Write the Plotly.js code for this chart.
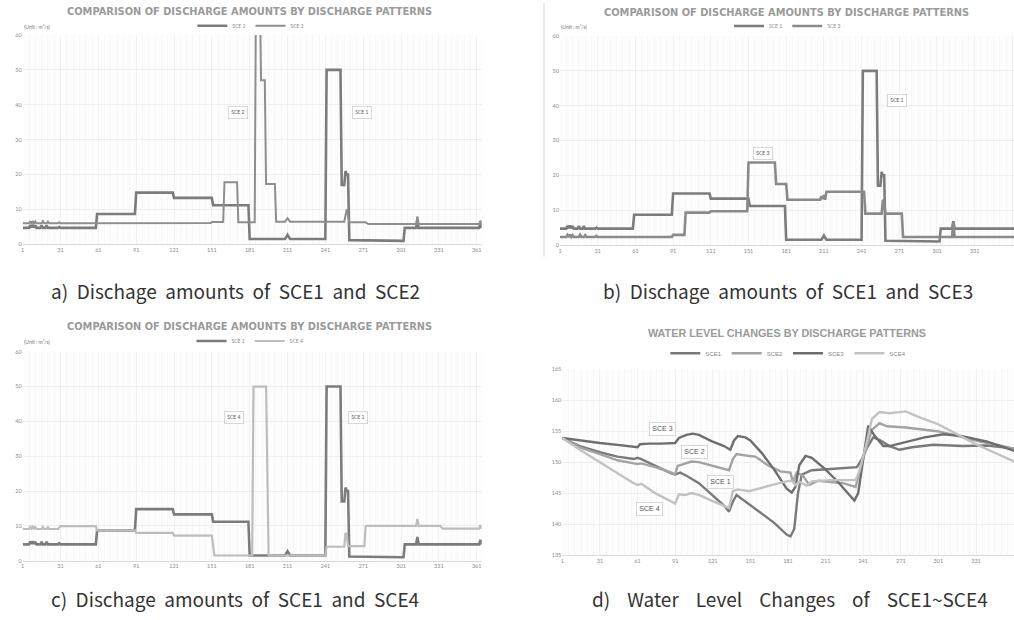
<!DOCTYPE html>
<html><head><meta charset="utf-8">
<script src="https://cdn.plot.ly/plotly-3.0.1.min.js"></script>
<style>html,body{margin:0;padding:0;background:#fff;} #chart{width:1014px;height:620px;}</style>
</head><body><div id="chart"></div>
<script>
// ---- Discharge (m3/s) by day : breakpoints ----
const sce1Day = [1,6,7,8,9,10,11,12,15,16,17,19,20,21,29,30,31,59,60,90,91,120,121,151,152,180,181,209,211,213,241,242,253,254,256,257,258,259,260,273,275,303,304,313,314,315,363,364,365];
const sce1Q   = [4.7,4.7,5.5,4.8,5.6,4.8,5.4,4.7,4.7,5.4,4.7,4.7,5.4,4.7,4.7,5.0,4.7,4.7,8.7,8.7,14.8,14.8,13.3,13.3,11.2,11.2,1.5,1.5,2.7,1.5,1.5,50,50,17,17,21,20,20,1.2,1.2,1.0,1.0,4.7,4.7,6.8,4.7,4.7,6.0,4.7];

const sce2Day = [1,6,7,8,9,10,11,12,16,17,18,20,21,22,29,30,31,120,121,150,151,160,161,171,172,185,186,189,190,193,194,201,202,209,211,213,256,258,260,273,275,313,314,315,363,364,365];
const sce2Q   = [6.0,6.0,6.6,5.9,6.7,5.9,6.5,6.0,6.0,6.6,6.0,6.0,6.5,6.0,6.0,6.3,6.0,6.0,6.1,6.1,6.4,6.4,17.8,17.8,6.3,6.3,75,75,47,47,17.3,17.3,6.5,6.5,7.5,6.5,6.5,10,6.3,6.3,5.8,5.8,8.0,5.8,5.8,6.8,5.8];

const sce3Day = [1,6,7,8,9,10,11,12,16,17,18,20,21,22,29,30,31,90,91,100,101,120,121,150,151,172,173,181,182,208,209,210,211,212,213,243,244,257,258,259,260,273,274,313,314,315,365];
const sce3Q   = [2.3,2.3,2.9,2.3,3.0,2.3,2.8,2.3,2.3,2.9,2.3,2.3,2.8,2.3,2.3,2.6,2.3,2.3,2.9,2.9,9.3,9.3,9.7,9.7,23.7,23.7,17.5,17.5,13.0,13.0,14.0,13.2,14.3,13.0,15.3,15.3,9.0,9.0,13.0,12.0,9.0,9.0,2.3,2.3,6.5,2.3,2.3];

const sce4Day = [1,6,7,8,9,10,11,12,16,17,18,20,21,22,29,30,31,59,60,90,91,120,121,151,153,183,184,194,196,241,242,256,257,258,259,272,273,313,314,315,332,334,363,364,365];
const sce4Q   = [9.1,9.1,9.7,9.2,9.8,9.2,9.6,9.1,9.1,9.7,9.1,9.1,9.6,9.1,9.1,9.4,9.95,9.95,8.7,8.7,8.0,8.0,7.2,7.2,1.5,1.5,50,50,1.5,1.5,4.0,4.0,8.0,7.5,4.2,4.2,10,10,12,10,10,9.2,9.2,10.2,9.2];

// ---- Water level (EL.m) by day ----
const wl1Day = [1,15,31,45,58,61,64,75,88,91,95,100,110,120,130,134,137,140,150,160,170,180,183,186,189,192,200,215,236,240,244,249,255,262,270,280,297,320,340,365];
const wl1    = [153.9,152.6,151.6,150.9,150.5,150.7,150.5,149.4,148.2,148.0,148.3,147.8,146.6,144.8,143.0,142.0,143.6,144.7,143.2,141.6,140.2,138.3,138.0,139.2,145.0,148.0,148.7,148.9,149.2,150.5,152.3,154.0,153.5,152.6,152.0,152.4,152.8,152.6,152.7,152.1];

const wl2Day = [1,15,31,45,58,61,64,75,88,91,93,97,104,110,120,130,134,137,140,150,155,165,175,183,185,188,193,198,205,215,225,235,238,243,248,254,260,275,290,300,315,335,350,365];
const wl2    = [153.9,152.4,151.3,150.3,149.8,149.7,149.8,149.2,148.3,148.0,149.4,149.7,150.1,150.0,149.5,149.0,148.7,150.5,151.3,151.0,150.9,149.5,148.5,148.3,146.8,148.3,147.8,146.3,147.0,146.8,146.6,146.0,148.5,152.0,155.2,156.3,155.8,155.6,155.3,155.0,154.3,153.3,152.7,152.0];

const wl3Day = [1,15,31,45,58,61,63,70,80,91,94,100,105,110,120,130,135,138,141,147,151,160,170,180,184,187,190,195,200,210,220,230,234,237,241,245,250,257,262,275,290,305,320,340,365];
const wl3    = [153.9,153.5,153.1,152.8,152.5,152.4,152.9,153.0,153.0,153.1,153.9,154.4,154.6,154.4,153.4,152.6,152.0,153.5,154.2,154.0,153.5,151.5,148.8,145.7,145.1,146.0,149.5,151.0,150.7,149.0,147.0,144.8,143.8,145.0,150.5,155.9,154.3,152.6,152.6,153.3,154.0,154.5,154.2,153.3,151.6];

const wl4Day = [1,15,31,45,58,61,64,75,88,91,94,99,104,110,120,130,134,137,141,150,160,170,180,184,187,190,196,200,215,235,238,243,248,254,262,275,285,300,315,330,345,365];
const wl4    = [153.9,152.0,150.0,148.2,146.6,146.3,146.5,145.0,143.6,143.3,144.8,144.7,145.0,144.7,143.8,143.0,142.6,145.3,145.6,145.3,145.9,146.4,146.9,147.0,146.3,146.8,146.2,146.9,147.1,147.1,148.5,152.5,157.0,158.1,157.9,158.2,157.3,156.2,154.6,153.0,151.6,149.8];

const xTicks = [1,31,61,91,121,151,181,211,241,271,301,331,361];
const qTicks = [0,10,20,30,40,50,60];
const wlTicks = [135,140,145,150,155,160,165];

const W = 1014, H = 620;
const px = v => v / W, py = v => 1 - v / H;

const tickFont = {family: 'Lato, Liberation Sans, sans-serif', size: 5.5, color: '#8c8c8c'};
function xax(d0, d1, r1, anchor) {
  return {domain: [px(d0), px(d1)], range: [1, r1], anchor: anchor,
    tickvals: xTicks, tickfont: tickFont, ticks: '', showgrid: true, gridcolor: '#ececec', gridwidth: 0.6,
    minor: {dtick: 5, tick0: 1, showgrid: true, gridcolor: '#f4f4f4', gridwidth: 0.6},
    showline: true, linecolor: '#d9d9d9', linewidth: 1, zeroline: false, fixedrange: true};
}
function yax(top, bot, range, vals, anchor) {
  return {domain: [py(bot), py(top)], range: range, anchor: anchor, tickvals: vals,
    tickfont: tickFont, ticks: '', showgrid: true, gridcolor: '#e6e6e6', gridwidth: 0.6,
    zeroline: false, showline: false, fixedrange: true};
}

function tr(x, y, name, xa, ya, leg, color, width) {
  return {x: x, y: y, name: name, xaxis: xa, yaxis: ya, legend: leg, type: 'scatter', mode: 'lines',
    line: {color: color, width: width}, hoverinfo: 'skip'};
}

const data = [
  tr(sce1Day, sce1Q, 'SCE 1', 'x', 'y', 'legend', '#7c7c7c', 2.6),
  tr(sce2Day, sce2Q, 'SCE 2', 'x', 'y', 'legend', '#8e8e8e', 2.0),
  tr(sce1Day, sce1Q, 'SCE 1', 'x2', 'y2', 'legend2', '#7c7c7c', 2.6),
  tr(sce3Day, sce3Q, 'SCE 3', 'x2', 'y2', 'legend2', '#8a8a8a', 2.6),
  tr(sce1Day, sce1Q, 'SCE 1', 'x3', 'y3', 'legend3', '#7c7c7c', 2.6),
  tr(sce4Day, sce4Q, 'SCE 4', 'x3', 'y3', 'legend3', '#bdbdbd', 2.2),
  tr(wl1Day, wl1, 'SCE1', 'x4', 'y4', 'legend4', '#7a7a7a', 2.4),
  tr(wl2Day, wl2, 'SCE2', 'x4', 'y4', 'legend4', '#a3a3a3', 2.4),
  tr(wl3Day, wl3, 'SCE3', 'x4', 'y4', 'legend4', '#6e6e6e', 2.4),
  tr(wl4Day, wl4, 'SCE4', 'x4', 'y4', 'legend4', '#c2c2c2', 2.4)
];

const legFont = {family: 'Lato, Liberation Sans, sans-serif', size: 5, color: '#888'};
function leg(cx, cy) {
  return {x: px(cx), y: py(cy), xanchor: 'center', yanchor: 'middle', orientation: 'h',
    font: legFont, bgcolor: 'rgba(0,0,0,0)', itemwidth: 30, tracegroupgap: 0};
}

const titleFont = {family: 'DejaVu Sans, sans-serif', size: 9.85, color: '#9a9a9a', weight: 'bold'};
const capFont = {family: 'Noto Sans CJK KR, Noto Sans, sans-serif', size: 19, color: '#333'};
const boxFont = {family: 'Lato, Liberation Sans, sans-serif', size: 5, color: '#555'};
const boxFontD = {family: 'Liberation Sans Narrow, Liberation Sans, sans-serif', size: 7, color: '#555'};
const unitFont = {family: 'Lato, Liberation Sans, sans-serif', size: 5, color: '#777'};

function pa(text, x, y, font, xa) {
  return {text: text, xref: 'paper', yref: 'paper', x: px(x), y: py(y), xanchor: xa || 'center', yanchor: 'middle',
    showarrow: false, font: font};
}
function box(text, xr, yr, x, y, font) {
  return {text: text, xref: xr, yref: yr, x: x, y: y, showarrow: false, font: font,
    bgcolor: '#ffffff', bordercolor: '#cfcfcf', borderwidth: 0.8, borderpad: 2.5};
}

const sp = '\u00a0 ';
const spD = '\u00a0\u00a0\u00a0 ';
const annotations = [
  pa('COMPARISON OF DISCHARGE AMOUNTS BY DISCHARGE PATTERNS', 249.5, 11.7, titleFont),
  pa('COMPARISON OF DISCHARGE AMOUNTS BY DISCHARGE PATTERNS', 786.7, 12.7, titleFont),
  pa('COMPARISON OF DISCHARGE AMOUNTS BY DISCHARGE PATTERNS', 249.5, 326.7, titleFont),
  pa('WATER LEVEL CHANGES BY DISCHARGE PATTERNS', 786.7, 332.7,
     {family: 'Liberation Sans Narrow, Liberation Sans, sans-serif', size: 10.8, color: '#9a9a9a', weight: 'bold'}),
  pa('(Unit : m\u00b3/s)', 21.7, 26.7, unitFont, 'left'),
  pa('(Unit : m\u00b3/s)', 559.3, 26.7, unitFont, 'left'),
  pa('(Unit : m\u00b3/s)', 21.7, 342.3, unitFont, 'left'),
  pa(['a)', 'Dischage', 'amounts', 'of', 'SCE1', 'and', 'SCE2'].join(sp), 235, 290, capFont),
  pa(['b)', 'Dischage', 'amounts', 'of', 'SCE1', 'and', 'SCE3'].join(sp), 788, 290, capFont),
  pa(['c)', 'Dischage', 'amounts', 'of', 'SCE1', 'and', 'SCE4'].join(sp), 235, 598, capFont),
  pa(['d)', 'Water', 'Level', 'Changes', 'of', 'SCE1~SCE4'].join(spD), 790, 598, capFont),
  box('SCE 2', 'x', 'y', 171.7, 37.9, boxFont),
  box('SCE 1', 'x', 'y', 270, 37.9, boxFont),
  box('SCE 3', 'x2', 'y2', 162.3, 26.3, boxFont),
  box('SCE 1', 'x2', 'y2', 269.4, 41.6, boxFont),
  box('SCE 4', 'x3', 'y3', 168.8, 41.2, boxFont),
  box('SCE 1', 'x3', 'y3', 267.1, 41.2, boxFont),
  box('SCE 3', 'x4', 'y4', 81.1, 155.4, boxFontD),
  box('SCE 2', 'x4', 'y4', 106.3, 151.6, boxFontD),
  box('SCE 1', 'x4', 'y4', 126.8, 146.8, boxFontD),
  box('SCE 4', 'x4', 'y4', 70.4, 142.5, boxFontD)
];

const layout = {
  width: W, height: H, margin: {l: 0, r: 0, t: 0, b: 0},
  paper_bgcolor: '#ffffff', plot_bgcolor: '#fdfdfd', showlegend: true,
  xaxis: xax(22.7, 481.7, 365, 'y'),
  yaxis: yax(35, 244.3, [0, 60], qTicks, 'x'),
  xaxis2: xax(560, 1014, 362.3, 'y2'),
  yaxis2: yax(36, 245, [0, 60], qTicks, 'x2'),
  xaxis3: xax(22.7, 481.7, 365, 'y3'),
  yaxis3: yax(351.7, 560.7, [0, 60], qTicks, 'x3'),
  xaxis4: xax(562.3, 1014, 361.3, 'y4'),
  yaxis4: yax(369.3, 555, [135, 165], wlTicks, 'x4'),
  legend: leg(250.8, 25.7),
  legend2: leg(787.5, 26),
  legend3: leg(250, 341),
  legend4: Object.assign(leg(788.3, 353.3), {font: {family: 'Liberation Sans, sans-serif', size: 6, color: '#888'}}),
  annotations: annotations,
  shapes: [{type: 'line', xref: 'paper', yref: 'paper', x0: px(544), x1: px(544), y0: py(3), y1: py(257),
            line: {color: '#d5d5d5', width: 1}}]
};

Plotly.newPlot('chart', data, layout, {staticPlot: true, displayModeBar: false});
</script>
</body></html>
